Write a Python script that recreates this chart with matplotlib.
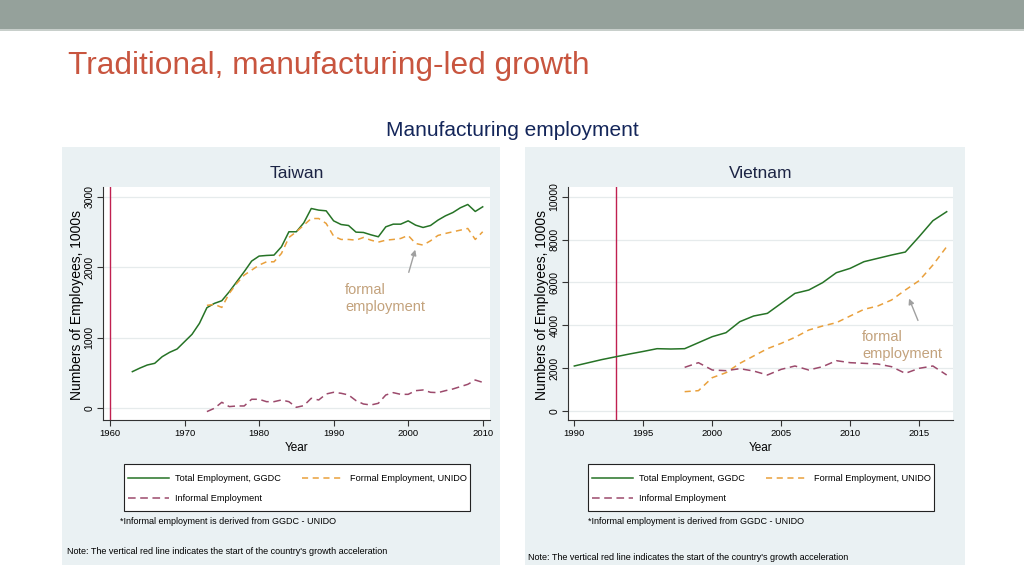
import matplotlib
matplotlib.use("Agg")
import matplotlib.pyplot as plt
from matplotlib.patches import Rectangle

# ---------------- data ----------------
tw_total_years = list(range(1963, 2011))
tw_total = [520, 570, 614, 638, 732, 794, 841, 945, 1049, 1205, 1427, 1488, 1526, 1653,
            1795, 1937, 2088, 2159, 2168, 2173, 2291, 2504, 2504, 2631, 2834, 2811, 2801,
            2659, 2607, 2593, 2499, 2494, 2461, 2433, 2574, 2612, 2612, 2659, 2598, 2565,
            2593, 2669, 2730, 2777, 2844, 2891, 2792, 2858]
tw_sub_years = list(range(1973, 2011))
tw_formal = [1460, 1474, 1431, 1630, 1771, 1889, 1960, 2031, 2078, 2078, 2196, 2423, 2504,
             2598, 2692, 2692, 2622, 2442, 2395, 2395, 2385, 2423, 2385, 2357, 2385, 2395,
             2409, 2452, 2338, 2315, 2376, 2452, 2480, 2504, 2527, 2551, 2395, 2504]
tw_informal = [-47, 0, 85, 24, 33, 33, 128, 128, 94, 94, 118, 94, 14, 38, 142, 118, 203,
               227, 213, 189, 109, 61, 47, 71, 189, 222, 198, 198, 250, 260, 227, 222, 250,
               274, 307, 340, 401, 368]
tw_accel = 1960

vn_total_years = list(range(1990, 2018))
vn_total = [2100, 2250, 2400, 2530, 2660, 2780, 2908, 2893, 2908, 3188, 3468, 3655, 4168,
            4432, 4557, 5023, 5490, 5645, 5988, 6454, 6656, 6967, 7123, 7278, 7418, 8134,
            8880, 9300]
vn_sub_years = list(range(1998, 2018))
vn_formal = [902, 949, 1555, 1788, 2224, 2566, 2908, 3157, 3437, 3779, 3966, 4121, 4432,
             4743, 4899, 5179, 5645, 6081, 6812, 7667]
vn_informal = [2037, 2255, 1913, 1882, 1975, 1866, 1680, 1944, 2100, 1913, 2068, 2348, 2255,
               2224, 2193, 2068, 1757, 1991, 2100, 1680]
vn_accel = 1993

tw_xticks = [1960, 1970, 1980, 1990, 2000, 2010]
tw_yticks = [0, 1000, 2000, 3000]
vn_xticks = [1990, 1995, 2000, 2005, 2010, 2015]
vn_yticks = [0, 2000, 4000, 6000, 8000, 10000]

labels = ["Total Employment, GGDC", "Formal Employment, UNIDO", "Informal Employment"]

# ---------------- fonts ----------------
REG = "Liberation Sans"
plt.rcParams["font.family"] = [REG, "DejaVu Sans"]

W, H = 1024, 576
fig = plt.figure(figsize=(W / 100, H / 100), dpi=100)
fig.patch.set_facecolor("white")


def fx(x):
    return x / W


def fy(y):
    return 1 - y / H


def frect(x0, y0, x1, y1, z=0, **kw):
    r = Rectangle((fx(x0), fy(y1)), fx(x1) - fx(x0), fy(y0) - fy(y1),
                  transform=fig.transFigure, zorder=z, **kw)
    fig.patches.append(r)
    return r


# top band
frect(0, 0, W, 30, z=-5, facecolor="#95a19b", edgecolor="none")
frect(0, 29, W, 31, z=-5, facecolor="#c8cfcb", edgecolor="none")

fig.text(fx(68), fy(66), "Traditional, manufacturing-led growth", color="#c8553f",
         fontsize=22.8, ha="left", va="center")
fig.text(fx(512), fy(130), "Manufacturing employment", color="#14265a",
         fontsize=15, ha="center", va="center")

PANEL_BG = "#eaf1f3"
GREEN = "#267326"
ORANGE = "#e9a03c"
MAROON = "#9c4a6c"
RED = "#c02050"


def panel(px0, px1, ax_l, ax_r, ax_t, ax_b, xlim, ylim, xticks, yticks, title,
          yrs_t, tot, yrs_s, formal, informal, accel, ann_text_xy, ann_tail, ann_head,
          leg_box, note1_xy, note2_xy):
    frect(px0, 147, px1, 565, z=-5, facecolor=PANEL_BG, edgecolor="none")
    ax = fig.add_axes([fx(ax_l), fy(ax_b), fx(ax_r) - fx(ax_l), fy(ax_t) - fy(ax_b)])
    ax.set_zorder(2)
    ax.set_facecolor("white")
    ax.set_xlim(*xlim)
    ax.set_ylim(*ylim)
    for s in ["top", "right"]:
        ax.spines[s].set_visible(False)
    for s in ["left", "bottom"]:
        ax.spines[s].set_color("#333333")
        ax.spines[s].set_linewidth(0.8)
    ax.set_xticks(xticks)
    ax.set_yticks(yticks)
    ax.tick_params(axis="both", length=4, width=0.8, color="#333333")
    ax.tick_params(axis="x", labelsize=6.8, pad=2.5)
    ax.tick_params(axis="y", pad=2, labelsize=7.5)
    for lab in ax.get_yticklabels():
        lab.set_rotation(90)
        lab.set_va("center")
    ax.yaxis.grid(True, color="#e6ebec", linewidth=0.9)
    ax.set_axisbelow(True)
    ax.set_xlabel("Year", fontsize=8.5, labelpad=3)
    ax.set_ylabel("Numbers of Employees, 1000s", fontsize=10, va="center")
    ax.yaxis.set_label_coords((77 - 103) / 387, 0.5 - 2 / 233)
    fig.text(fx((px0 + px1) / 2 + 16), fy(174), title, fontsize=12.5, color="#1c2444",
             ha="center", va="center")

    ax.axvline(accel, color=RED, linewidth=1.0, zorder=2)
    l1, = ax.plot(yrs_t, tot, color=GREEN, linewidth=1.1, zorder=3)
    l2, = ax.plot(yrs_s, formal, color=ORANGE, linewidth=1.1, dashes=(4, 3), zorder=3)
    l3, = ax.plot(yrs_s, informal, color=MAROON, linewidth=1.1, dashes=(5, 3), zorder=3)

    # annotation
    ax.annotate("", xy=ann_head, xytext=ann_tail, xycoords=fig.transFigure,
                textcoords=fig.transFigure,
                arrowprops=dict(arrowstyle="-|>", color="#a0a0a0", lw=1.0,
                                mutation_scale=8))
    ax.text(ann_text_xy[0], ann_text_xy[1], "formal\nemployment", color="#c3a27c",
            fontsize=10.5, ha="left", va="top", linespacing=1.25,
            transform=fig.transFigure)

    # legend box
    bx0, by0, bx1, by1 = leg_box
    frect(bx0, by0, bx1, by1, z=1, facecolor="white", edgecolor="#222222", linewidth=0.8)
    leg = fig.legend([l1, l3, l2], [labels[0], labels[2], labels[1]], ncol=2,
                     loc="upper left", bbox_to_anchor=(fx(bx0 + 1), fy(by0 + 7)),
                     frameon=False, fontsize=6.6, handlelength=4.5, handletextpad=0.7,
                     columnspacing=2.3, labelspacing=1.25, borderaxespad=0,
                     borderpad=0.3)
    leg.set_zorder(3)
    fig.text(fx(note1_xy[0]), fy(note1_xy[1]),
             "*Informal employment is derived from GGDC - UNIDO", fontsize=6.5,
             ha="left", va="center")
    fig.text(fx(note2_xy[0]), fy(note2_xy[1]),
             "Note: The vertical red line indicates the start of the country's growth acceleration",
             fontsize=6.5, ha="left", va="center")
    return ax


panel(62, 500, 103, 490, 187, 420, (1959.06, 2010.98), (-166, 3139), tw_xticks, tw_yticks,
      "Taiwan", tw_total_years, tw_total, tw_sub_years, tw_formal, tw_informal, tw_accel,
      (fx(345), fy(283)), (fx(408), fy(275)), (fx(416), fy(247)),
      (124, 464, 470, 511), (120, 522), (67, 551))

panel(525, 965, 567.7, 953.3, 187, 420, (1989.52, 2017.48), (-420, 10453), vn_xticks,
      vn_yticks, "Vietnam", vn_total_years, vn_total, vn_sub_years, vn_formal, vn_informal,
      vn_accel, (fx(862), fy(330)), (fx(919), fy(323)), (fx(908), fy(296)),
      (588, 464, 934, 511), (588, 521), (528, 558))

fig.savefig("out.png", dpi=100, facecolor="white")
